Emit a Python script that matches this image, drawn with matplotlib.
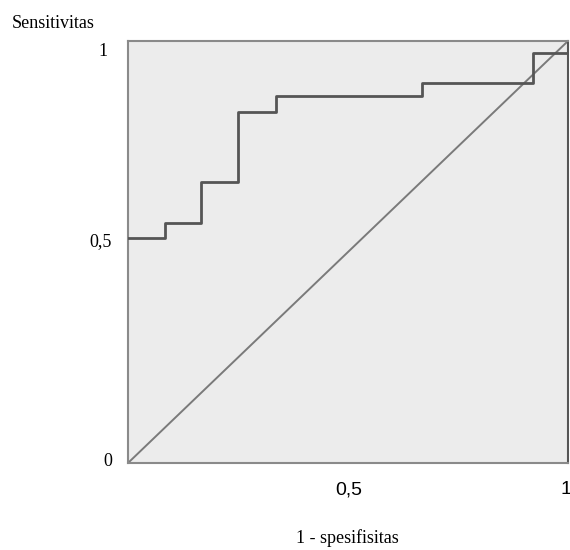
import matplotlib
matplotlib.use('Agg')
import matplotlib.pyplot as plt

# ── Data (ROC curve) ───────────────────────────────────────────────────────
fpr = [0.0, 0.084, 0.166, 0.250, 0.336, 0.668, 0.920, 1.0]
tpr = [0.533, 0.569, 0.667, 0.832, 0.870, 0.901, 0.971, 0.971]
ref_x = [0.0, 1.0]
ref_y = [0.0, 1.0]

x_ticks = [0.5, 1.0]
x_tick_labels = ['0,5', '1']
y_ticks = [0.0, 0.5, 1.0]
y_tick_labels = ['0', '0,5', '1']

# ── Style ──────────────────────────────────────────────────────────────────
W, H, DPI = 570, 550, 100
C_BG    = '#ececec'
C_SPINE = '#8a8a8a'
C_CURVE = '#555555'
C_DIAG  = '#7a7a7a'
SERIF = 'Liberation Serif'
SANS  = 'Liberation Sans'

fig = plt.figure(figsize=(W / DPI, H / DPI), dpi=DPI)
fig.patch.set_facecolor('white')

L, R, T, B = 128, 568, 41, 463   # axes box in pixels
ax = fig.add_axes([L / W, 1 - B / H, (R - L) / W, (B - T) / H])
ax.set_facecolor(C_BG)

ax.plot(ref_x, ref_y, color=C_DIAG, linewidth=1.4, zorder=2)
ax.plot(fpr, tpr, drawstyle='steps-post', color=C_CURVE, linewidth=2.0, zorder=3)

ax.set_xlim(0, 1)
ax.set_ylim(0, 1)
for side in ax.spines.values():
    side.set_color(C_SPINE)
    side.set_linewidth(1.5)
ax.spines['right'].set_color('#555555')
ax.set_xticks([])
ax.set_yticks([])


def px(x, y):
    return x / W, 1 - y / H


# y tick labels (serif, shifted as in the original)
y_label_px = [(112, 461), (112, 242), (108, 52)]
for (x, y), lab in zip(y_label_px, y_tick_labels):
    fig.text(*px(x, y), lab, ha='right', va='center', family=SERIF, fontsize=13)

# x tick labels (sans)
x_label_px = [(349, 490), (566, 490)]
for (x, y), lab in zip(x_label_px, x_tick_labels):
    fig.text(*px(x, y), lab, ha='center', va='center', family=SANS, fontsize=14)

fig.text(*px(53, 23), 'Sensitivitas', ha='center', va='center', family=SERIF, fontsize=13)
fig.text(*px(347, 538), '1 - spesifisitas', ha='center', va='center', family=SERIF, fontsize=13)

fig.savefig('out.png', dpi=DPI, facecolor='white')
